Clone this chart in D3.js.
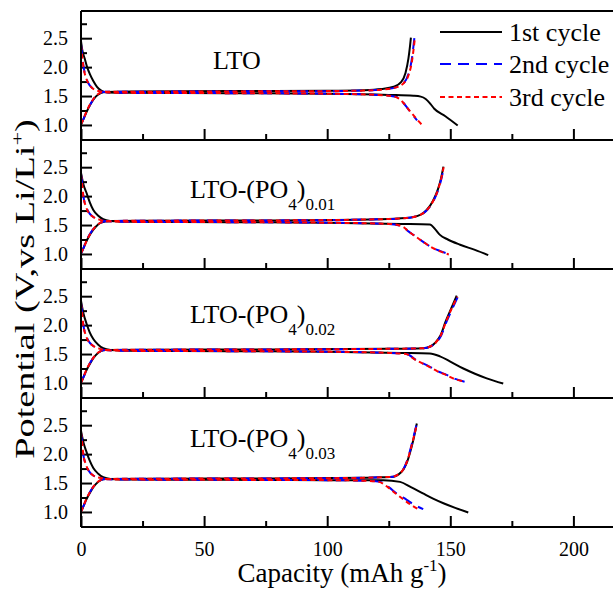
<!DOCTYPE html>
<html lang="en">
<head>
    <meta charset="UTF-8">
    <title>Charge / discharge curves - LTO and LTO-(PO4)x</title>
    <style>
        body { margin: 0; background: #fff; }
        svg text { font-family: "Liberation Serif", "Times New Roman", Times, "Nimbus Roman", "DejaVu Serif", serif; fill: #000; }
        .axis path { display: none; }
        .axis line { stroke: #000; stroke-width: 2; }
        .axis text { font-size: 20px; }
    </style>
</head>
<body>
    <svg id="chart" width="613" height="590"></svg>

    <script src="https://d3js.org/d3.v7.min.js"></script>
    <script>
        // tick values
        const capTicks = [0, 50, 100, 150, 200];
        const capMinor = [25, 75, 125, 175];
        const voltTicks = [1.0, 1.5, 2.0, 2.5];
        const voltMinor = [1.25, 1.75, 2.25, 2.75];

        const cycleNames = ["1st cycle", "2nd cycle", "3rd cycle"];
        const panelLabels = ["LTO", "LTO-(PO", "LTO-(PO", "LTO-(PO"];
        const panelSubs = ["", "0.01", "0.02", "0.03"];

        // ---- LTO  [capacity, potential]
        const lto1C = [[0,1.0],[1,1.1],[2,1.2],[4,1.37],[6,1.49],[8,1.55],[10,1.57],[20,1.58],[60,1.585],[100,1.59],[115,1.6],[122,1.62],[127,1.66],[130,1.74],[131.8,1.9],[133,2.15],[133.6,2.35],[134,2.51]];
        const lto1D = [[0,2.45],[0.5,2.3],[1.5,2.15],[2.5,2.0],[3.7,1.87],[5,1.76],[6.5,1.66],[8.4,1.59],[11,1.56],[20,1.555],[60,1.55],[100,1.54],[125,1.52],[135,1.505],[138,1.49],[140,1.45],[142,1.36],[143.5,1.28],[148,1.15],[153,0.99]];
        const lto2C = [[0,1.02],[1,1.1],[2,1.2],[4,1.37],[6,1.5],[8,1.56],[10,1.575],[20,1.575],[60,1.58],[100,1.585],[115,1.595],[122,1.61],[128,1.65],[131,1.72],[133,1.88],[134.3,2.12],[135,2.35],[135.4,2.5]];
        const lto2D = [[0,2.4],[0.5,2.2],[1,2.02],[2,1.83],[3,1.72],[4.5,1.64],[6,1.6],[8.5,1.575],[12,1.56],[20,1.555],[60,1.55],[100,1.54],[120,1.52],[126,1.5],[129,1.47],[131,1.38],[133,1.27],[135,1.16],[136.5,1.08]];
        const lto3C = [[0,1.01],[1,1.1],[2,1.21],[4,1.38],[6,1.5],[8,1.56],[10,1.575],[20,1.575],[60,1.58],[100,1.585],[115,1.595],[122,1.61],[128,1.65],[131,1.72],[133.2,1.88],[134.5,2.12],[135.2,2.35],[135.6,2.49]];
        const lto3D = [[0,2.38],[0.5,2.18],[1,2.0],[2,1.82],[3,1.72],[4.5,1.64],[6,1.6],[8.5,1.575],[12,1.56],[20,1.555],[60,1.55],[100,1.54],[120,1.52],[126,1.5],[129,1.46],[131,1.38],[133,1.27],[135,1.17],[137,1.07],[139,0.98]];

        // ---- LTO-(PO4)0.01
        const p01_1C = [[0,1.01],[1,1.1],[2,1.2],[4,1.36],[6,1.47],[8,1.54],[9.7,1.56],[12,1.57],[30,1.575],[80,1.58],[121,1.6],[132,1.62],[138,1.68],[140.4,1.76],[143,1.92],[145,2.12],[146.3,2.32],[147.2,2.51]];
        const p01_1D = [[0,2.4],[1,2.2],[2.3,2.05],[3.5,1.9],[5,1.76],[7,1.66],[9,1.6],[11.8,1.57],[20,1.555],[60,1.55],[100,1.54],[130,1.52],[141.7,1.51],[144,1.42],[145.8,1.33],[149,1.25],[154,1.16],[160,1.07],[165.4,0.98]];
        const p01_2C = [[0,1.0],[1,1.1],[2,1.21],[4,1.37],[6,1.48],[8,1.54],[10,1.565],[12,1.57],[30,1.575],[80,1.58],[121,1.6],[132,1.62],[138,1.68],[140.6,1.76],[143.2,1.92],[145.2,2.12],[146.5,2.32],[147.4,2.5]];
        const p01_2D = [[0,2.38],[0.5,2.2],[0.9,2.02],[2,1.83],[3,1.73],[5,1.64],[7.7,1.59],[11,1.565],[20,1.555],[60,1.55],[100,1.54],[125,1.52],[130.8,1.47],[133,1.39],[135,1.33],[139,1.21],[143,1.1],[146,1.05],[149.2,1.0]];
        const p01_3C = [[0,1.01],[1,1.1],[2,1.2],[4,1.37],[6,1.48],[8,1.54],[10,1.565],[12,1.57],[30,1.575],[80,1.58],[121,1.6],[132,1.62],[138,1.68],[140.5,1.76],[143.1,1.92],[145.1,2.12],[146.4,2.32],[147.3,2.5]];
        const p01_3D = [[0,2.37],[0.5,2.19],[0.9,2.01],[2,1.82],[3,1.72],[5,1.64],[7.7,1.59],[11,1.565],[20,1.555],[60,1.55],[100,1.54],[125,1.52],[130.8,1.47],[133,1.39],[135,1.33],[139,1.21],[143,1.1],[146.2,1.04],[149.4,0.99]];

        // ---- LTO-(PO4)0.02
        const p02_1C = [[0,1.0],[1,1.1],[2,1.2],[4,1.36],[6,1.48],[8,1.55],[10,1.57],[30,1.575],[80,1.58],[125,1.59],[139,1.6],[141.8,1.63],[144,1.7],[146,1.82],[148,2.05],[150.5,2.3],[152.6,2.51]];
        const p02_1D = [[0,2.42],[1,2.2],[2.3,2.02],[3.5,1.88],[5,1.76],[7,1.66],[9,1.6],[12,1.57],[20,1.555],[60,1.55],[100,1.54],[130,1.52],[141.7,1.51],[145.8,1.46],[150,1.37],[155.3,1.25],[160,1.16],[164.8,1.08],[171.5,0.99]];
        const p02_2C = [[0,1.01],[1,1.1],[2,1.2],[4,1.37],[6,1.49],[8,1.55],[10,1.57],[30,1.575],[80,1.58],[125,1.59],[139,1.6],[142,1.63],[144.3,1.7],[146.3,1.82],[148.4,2.05],[151,2.3],[153.2,2.5]];
        const p02_2D = [[0,2.38],[0.5,2.2],[0.9,2.02],[2,1.83],[3,1.73],[5,1.64],[7.7,1.59],[11,1.565],[20,1.555],[60,1.55],[100,1.54],[125,1.52],[132.3,1.5],[136,1.4],[141.7,1.28],[145,1.2],[148.5,1.14],[152,1.07],[155.8,1.02]];
        const p02_3C = [[0,1.0],[1,1.1],[2,1.21],[4,1.37],[6,1.49],[8,1.55],[10,1.57],[30,1.575],[80,1.58],[125,1.59],[139,1.6],[141.9,1.63],[144.1,1.7],[146.1,1.82],[148.2,2.05],[150.7,2.3],[152.9,2.49]];
        const p02_3D = [[0,2.37],[0.5,2.19],[0.9,2.01],[2,1.82],[3,1.72],[5,1.64],[7.7,1.59],[11,1.565],[20,1.555],[60,1.55],[100,1.54],[125,1.52],[132,1.5],[135.8,1.4],[141.5,1.28],[144.8,1.2],[148.2,1.14],[151.6,1.07],[155,1.03]];

        // ---- LTO-(PO4)0.03
        const p03_1C = [[0,1.0],[1,1.1],[2,1.2],[4,1.36],[6,1.48],[8,1.55],[10,1.57],[30,1.575],[80,1.58],[115,1.59],[122,1.6],[126.9,1.61],[129,1.65],[130.9,1.73],[132.5,1.87],[133.6,2.02],[135,2.25],[136.4,2.53]];
        const p03_1D = [[0,2.4],[1,2.2],[2.3,2.03],[3.5,1.89],[5,1.76],[7,1.66],[9,1.6],[12,1.57],[20,1.56],[60,1.555],[100,1.55],[122.8,1.55],[129.6,1.52],[134,1.43],[138.9,1.32],[143,1.23],[147.2,1.15],[152,1.07],[157.3,0.99]];
        const p03_2C = [[0,1.01],[1,1.1],[2,1.2],[4,1.37],[6,1.49],[8,1.55],[10,1.57],[30,1.575],[80,1.58],[115,1.59],[122,1.6],[126.8,1.61],[128.9,1.65],[130.8,1.73],[132.3,1.87],[133.4,2.02],[134.8,2.25],[136.2,2.5]];
        const p03_2D = [[0,2.36],[0.5,2.18],[0.9,2.0],[2,1.82],[3,1.72],[5,1.63],[7.7,1.59],[11,1.565],[20,1.56],[60,1.555],[100,1.55],[115,1.54],[121.4,1.52],[125,1.43],[128.2,1.32],[132.3,1.21],[135.5,1.12],[139,1.05]];
        const p03_3C = [[0,1.0],[1,1.1],[2,1.21],[4,1.37],[6,1.49],[8,1.55],[10,1.57],[30,1.575],[80,1.58],[115,1.59],[122,1.6],[126.8,1.61],[128.9,1.65],[130.8,1.73],[132.4,1.87],[133.5,2.02],[134.9,2.25],[136.3,2.49]];
        const p03_3D = [[0,2.37],[0.5,2.19],[0.9,2.01],[2,1.82],[3,1.72],[5,1.63],[7.7,1.59],[11,1.565],[20,1.56],[60,1.555],[100,1.55],[115,1.54],[121,1.52],[124.6,1.43],[127.8,1.32],[131.5,1.2],[134.5,1.11],[137.7,1.03]];

        // one entry per panel, cycles in order 1st, 2nd, 3rd
        const panelData = [
            [[lto1C, lto1D], [lto2C, lto2D], [lto3C, lto3D]],
            [[p01_1C, p01_1D], [p01_2C, p01_2D], [p01_3C, p01_3D]],
            [[p02_1C, p02_1D], [p02_2C, p02_2D], [p02_3C, p02_3D]],
            [[p03_1C, p03_1D], [p03_2C, p03_2D], [p03_3C, p03_3D]]
        ];

        const cycleStyle = [
            { color: "#000", dash: null },
            { color: "#0000ff", dash: "11,7" },
            { color: "#ff0000", dash: "5,3.5" }
        ];

        const svg = d3.select("#chart");
        const plotLeft = 81, plotTop = 11, panelH = 129;
        const labelBase = [69, 198, 323, 447]; // baseline of the sample label in each panel

        // capacity axis runs off the right edge, like the original
        const x = d3.scaleLinear().domain([0, 220]).range([plotLeft, plotLeft + 220 * 2.462]);

        function drawPanel(i) {
            const y0 = plotTop + i * panelH;
            const y = d3.scaleLinear().domain([0.74, 2.97]).range([y0 + panelH, y0]);
            const g = svg.append("g");

            // left ticks (inward)
            g.append("g").attr("class", "axis")
                .attr("transform", `translate(${plotLeft},0)`)
                .call(d3.axisLeft(y).tickValues(voltTicks).tickSizeInner(-11).tickSizeOuter(0)
                    .tickPadding(13).tickFormat(d3.format(".1f")));
            g.append("g").attr("class", "axis")
                .attr("transform", `translate(${plotLeft},0)`)
                .call(d3.axisLeft(y).tickValues(voltMinor).tickSizeInner(-6).tickSizeOuter(0).tickFormat(""));

            // bottom ticks (inward); labels only on the last panel
            const bottomAxis = d3.axisBottom(x).tickValues(capTicks).tickSizeInner(-11).tickSizeOuter(0).tickPadding(15);
            if (i < 3) bottomAxis.tickFormat("");
            g.append("g").attr("class", "axis")
                .attr("transform", `translate(0,${y0 + panelH})`)
                .call(bottomAxis);
            g.append("g").attr("class", "axis")
                .attr("transform", `translate(0,${y0 + panelH})`)
                .call(d3.axisBottom(x).tickValues(capMinor).tickSizeInner(-6).tickSizeOuter(0).tickFormat(""));

            const line = d3.line()
                .x(d => x(d[0]))
                .y(d => y(d[1]))
                .curve(d3.curveMonotoneX);

            panelData[i].forEach((cycle, c) => {
                cycle.forEach(curve => {
                    g.append("path")
                        .attr("d", line(curve))
                        .attr("fill", "none")
                        .attr("stroke", cycleStyle[c].color)
                        .attr("stroke-width", 2)
                        .attr("stroke-dasharray", cycleStyle[c].dash);
                });
            });

            // frame lines
            g.append("line").attr("x1", plotLeft).attr("x2", 613).attr("y1", y0).attr("y2", y0)
                .attr("stroke", "#000").attr("stroke-width", 2);
            g.append("line").attr("x1", plotLeft).attr("x2", 613).attr("y1", y0 + panelH).attr("y2", y0 + panelH)
                .attr("stroke", "#000").attr("stroke-width", 2);

            // sample label
            const lbl = svg.append("text")
                .attr("x", i === 0 ? 213 : 190)
                .attr("y", labelBase[i])
                .style("font-size", "26px")
                .text(panelLabels[i]);
            if (panelSubs[i]) {
                lbl.append("tspan").attr("dy", 12).style("font-size", "17px").text("4");
                lbl.append("tspan").attr("dy", -12).text(")");
                lbl.append("tspan").attr("dy", 12).style("font-size", "17px").text(panelSubs[i]);
            }
        }

        for (let i = 0; i < 4; i++) drawPanel(i);

        // left axis line
        svg.append("line").attr("x1", plotLeft).attr("x2", plotLeft).attr("y1", plotTop).attr("y2", plotTop + 4 * panelH)
            .attr("stroke", "#000").attr("stroke-width", 2);

        // legend
        const legend = svg.append("g");
        cycleNames.forEach((name, c) => {
            const ly = [32, 64, 97][c];
            legend.append("line")
                .attr("x1", 440).attr("x2", 502).attr("y1", ly).attr("y2", ly)
                .attr("stroke", cycleStyle[c].color)
                .attr("stroke-width", 2)
                .attr("stroke-dasharray", cycleStyle[c].dash);
            legend.append("text")
                .attr("x", 509).attr("y", ly + 8.5)
                .style("font-size", "26px")
                .text(name);
        });

        // axis titles
        const xt = svg.append("text")
            .attr("x", 342).attr("y", 582)
            .attr("text-anchor", "middle")
            .style("font-size", "27px")
            .text("Capacity (mAh g");
        xt.append("tspan").attr("dy", -11).style("font-size", "17px").text("-1");
        xt.append("tspan").attr("dy", 11).text(")");

        // the original y title is stretched along its length
        const yt = svg.append("text")
            .attr("transform", "translate(34,289) rotate(-90) scale(1.42,1)")
            .attr("text-anchor", "middle")
            .style("font-size", "27px")
            .text("Potential (V,vs Li/Li");
        yt.append("tspan").attr("dy", -11).style("font-size", "17px").text("+");
        yt.append("tspan").attr("dy", 11).text(")");
    </script>
</body>
</html>
